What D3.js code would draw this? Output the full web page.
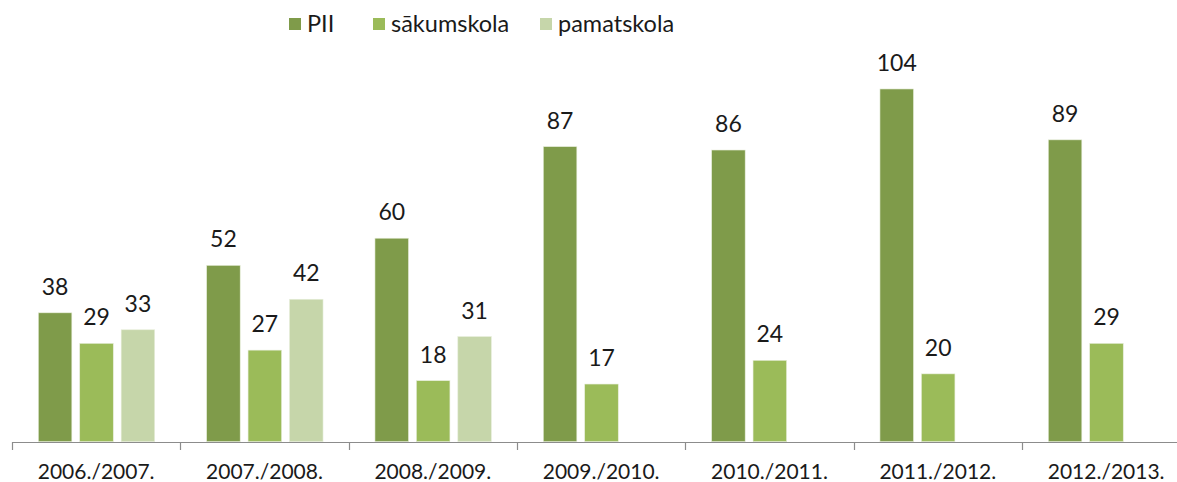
<!DOCTYPE html>
<html>
<head>
<meta charset="utf-8">
<script src="https://cdn.jsdelivr.net/npm/d3@7"></script>
<style>
  html, body { margin: 0; padding: 0; background: #fff; }
  svg { display: block; }
  text { font-family: Lato, "Open Sans", sans-serif; fill: #1a1a1a; }
</style>
</head>
<body>
<script>
const categories = ["2006./2007.", "2007./2008.", "2008./2009.", "2009./2010.", "2010./2011.", "2011./2012.", "2012./2013."];
const seriesNames = ["PII", "sākumskola", "pamatskola"];
const PII = [38, 52, 60, 87, 86, 104, 89];
const sakumskola = [29, 27, 18, 17, 24, 20, 29];
const pamatskola = [33, 42, 31, null, null, null, null];
const seriesValues = [PII, sakumskola, pamatskola];
const colors = ["#7f9b4a", "#9bbb59", "#c6d6aa"];

const W = 1177, H = 482;
const svg = d3.select("body").append("svg").attr("width", W).attr("height", H);

const x = d3.scaleBand().domain(categories).range([12, 12 + 7 * 168.33]);
const xi = d3.scaleBand().domain(seriesNames).range([26.3, 142.7]).paddingInner(0.19);
const y = d3.scaleLinear().domain([0, 120]).range([441.7, 34.7]);

const data = [];
categories.forEach((c, i) => {
  seriesNames.forEach((s, j) => {
    const v = seriesValues[j][i];
    if (v !== null && v !== undefined) data.push({ c, s, v, color: colors[j] });
  });
});

svg.append("g").selectAll("rect").data(data).join("rect")
  .attr("x", d => x(d.c) + xi(d.s))
  .attr("y", d => y(d.v))
  .attr("width", xi.bandwidth())
  .attr("height", d => y(0) - y(d.v))
  .attr("fill", d => d.color)
  .attr("stroke", "#e8eedc")
  .attr("stroke-width", 0.6);

svg.append("g").selectAll("text").data(data).join("text")
  .attr("x", d => x(d.c) + xi(d.s) + xi.bandwidth() / 2)
  .attr("y", d => y(d.v) - 18)
  .attr("text-anchor", "middle")
  .style("font-size", "23px")
  .text(d => d.v);

// axis
const ax = svg.append("g");
ax.append("line").attr("x1", 12).attr("x2", W).attr("y1", 442.5).attr("y2", 442.5)
  .attr("stroke", "#8c8c8c").attr("stroke-width", 1.2);
categories.forEach(c => {
  ax.append("line").attr("x1", Math.round(x(c)) + 0.5).attr("x2", Math.round(x(c)) + 0.5)
    .attr("y1", 442).attr("y2", 450).attr("stroke", "#8c8c8c").attr("stroke-width", 1.2);
  ax.append("text").attr("x", x(c) + x.bandwidth() / 2).attr("y", 479)
    .attr("text-anchor", "middle").style("font-size", "21px").text(c);
});

// legend
const legendX = [289, 373, 540];
const lg = svg.append("g");
seriesNames.forEach((s, j) => {
  lg.append("rect").attr("x", legendX[j]).attr("y", 18).attr("width", 12).attr("height", 12).attr("fill", colors[j]);
  lg.append("text").attr("x", legendX[j] + 18).attr("y", 32).style("font-size", "23.5px").text(s);
});
</script>
</body>
</html>
